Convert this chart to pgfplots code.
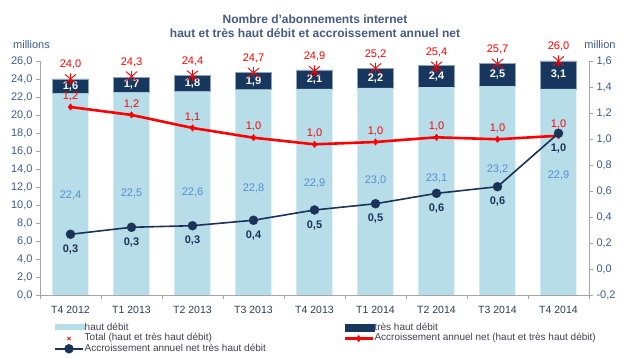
\documentclass[border=0pt]{standalone}
\usepackage{pgfplots}
\pgfplotsset{compat=1.18}
\usepackage{pgfplotstable}
\usepackage{fontspec}
\setmainfont{Liberation Sans}
\definecolor{hd}{HTML}{B7DDE8}
\definecolor{thd}{HTML}{17375E}
\definecolor{thdedge}{HTML}{8FA2BC}
\definecolor{navline}{HTML}{1B3358}
\definecolor{lblblue}{HTML}{558ED5}
\definecolor{tickcol}{HTML}{3C5A8C}
\definecolor{titlecol}{HTML}{465A82}
\definecolor{axgray}{HTML}{A6A6A6}
\definecolor{legtext}{HTML}{404050}
\definecolor{catcol}{HTML}{2E3B55}

\pgfdeclareplotmark{xstar}{%
  \pgfpathmoveto{\pgfqpoint{-\pgfplotmarksize}{-0.85\pgfplotmarksize}}%
  \pgfpathlineto{\pgfqpoint{\pgfplotmarksize}{0.85\pgfplotmarksize}}%
  \pgfpathmoveto{\pgfqpoint{-\pgfplotmarksize}{0.85\pgfplotmarksize}}%
  \pgfpathlineto{\pgfqpoint{\pgfplotmarksize}{-0.85\pgfplotmarksize}}%
  \pgfpathmoveto{\pgfqpoint{0pt}{-\pgfplotmarksize}}%
  \pgfpathlineto{\pgfqpoint{0pt}{\pgfplotmarksize}}%
  \pgfusepathqstroke}

\pgfplotstableread{
x hd thd
0 22.4 1.6
1 22.5 1.7
2 22.6 1.8
3 22.8 1.9
4 22.9 2.1
5 23.0 2.2
6 23.1 2.4
7 23.2 2.5
8 22.9 3.1
}\bars

\pgfplotstableread{
x y l
0 11.1 22,4
1 11.3 22,5
2 11.4 22,6
3 11.8 22,8
4 12.4 22,9
5 12.7 23,0
6 13.0 23,1
7 14.0 23,2
8 13.25 22,9
}\hdlabels

\pgfplotstableread{
x y l
0 23.2 1,6
1 23.35 1,7
2 23.5 1,8
3 23.75 1,9
4 23.95 2,1
5 24.1 2,2
6 24.3 2,4
7 24.45 2,5
8 24.45 3,1
}\thdlabels

\pgfplotstableread{
x y l
0 24.0 24,0
1 24.3 24,3
2 24.4 24,4
3 24.7 24,7
4 24.9 24,9
5 25.2 25,2
6 25.4 25,4
7 25.7 25,7
8 26.0 26,0
}\totals

\pgfplotstableread{
x y l
0 1.246 1,2
1 1.185 1,2
2 1.085 1,1
3 1.010 1,0
4 0.959 1,0
5 0.977 1,0
6 1.013 1,0
7 0.998 1,0
8 1.025 1,0
}\accnet

\pgfplotstableread{
x y l
0 0.267 0,3
1 0.321 0,3
2 0.333 0,3
3 0.375 0,4
4 0.454 0,5
5 0.502 0,5
6 0.582 0,6
7 0.633 0,6
8 1.044 1,0
}\accthd

\begin{document}
\begin{tikzpicture}[x=1pt,y=1pt]
\useasboundingbox (0,0) rectangle (627,358);
\pgfplotsset{base/.style={scale only axis, width=549pt, height=234pt,
  at={(40pt,63pt)}, anchor=south west, xmin=-0.5, xmax=8.5}}

% title and unit labels
\node[align=center, text=titlecol, font=\bfseries\fontsize{12}{14}\selectfont] at (315,332)
  {Nombre d'abonnements internet\\haut et très haut débit et accroissement annuel net};
\node[text=tickcol, font=\fontsize{11}{13}\selectfont] at (31.5,313) {millions};
\node[text=tickcol, font=\fontsize{11}{13}\selectfont] at (600,313) {million};

% Axis A: stacked bars, left axis
\begin{axis}[base, ymin=0, ymax=26, ybar stacked, bar width=36pt,
  axis x line*=bottom, axis y line*=left,
  axis line style={draw=axgray, line width=0.8pt},
  tick style={draw=axgray, line width=0.8pt},
  tick align=outside, major tick length=4pt,
  ytick={0,2,...,26},
  yticklabel style={font=\fontsize{11}{13}\selectfont, text=tickcol,
    /pgf/number format/.cd, fixed, fixed zerofill, precision=1, use comma, assume math mode=true},
  xtick={-0.5,0.5,...,8.5}, xticklabels={},
  extra x ticks={0,1,2,3,4,5,6,7,8},
  extra x tick labels={T4 2012,T1 2013,T2 2013,T3 2013,T4 2013,T1 2014,T2 2014,T3 2014,T4 2014},
  extra x tick style={major tick length=0pt,
    xticklabel style={font=\fontsize{10.5}{12}\selectfont, text=catcol, yshift=-8pt}},
]
\addplot[fill=hd, draw=none] table[x=x, y=hd] {\bars};
\addplot[fill=thd, draw=thdedge, line width=0.7pt] table[x=x, y=thd] {\bars};
\end{axis}

% Axis B: labels and totals on left scale
\begin{axis}[base, ymin=0, ymax=26, hide axis, clip=false]
\addplot[draw=none, mark=none, nodes near coords, point meta=explicit symbolic,
  nodes near coords style={anchor=center, text=lblblue, font=\fontsize{11}{13}\selectfont}]
  table[x=x, y=y, meta=l] {\hdlabels};
\addplot[draw=none, mark=none, nodes near coords, point meta=explicit symbolic,
  nodes near coords style={anchor=center, text=white, font=\bfseries\fontsize{11}{13}\selectfont}]
  table[x=x, y=y, meta=l] {\thdlabels};
\addplot[only marks, mark=xstar, mark size=5.5pt, red, mark options={line width=0.9pt},
  nodes near coords, point meta=explicit symbolic,
  nodes near coords style={anchor=south, yshift=6pt, text=red, font=\fontsize{11}{13}\selectfont}]
  table[x=x, y=y, meta=l] {\totals};
\end{axis}

% Axis C: right axis, lines, legend
\begin{axis}[base, ymin=-0.2, ymax=1.6, clip=false,
  axis x line=none, axis y line*=right,
  axis line style={draw=axgray, line width=0.8pt},
  tick style={draw=axgray, line width=0.8pt},
  tick align=outside, major tick length=4pt,
  ytick={-0.2,0,0.2,0.4,0.6,0.8,1,1.2,1.4,1.6},
  yticklabel style={font=\fontsize{11}{13}\selectfont, text=tickcol,
    /pgf/number format/.cd, fixed, fixed zerofill, precision=1, use comma, assume math mode=true},
  legend image code/.code={\draw[mark repeat=2,mark phase=2,#1] plot coordinates {(0pt,0pt) (14pt,0pt) (28pt,0pt)};},
  legend columns=2,
  legend cell align=left,
  legend style={at={(axis description cs:0.0255,-0.12)}, anchor=north west,
    draw=none, fill=none, inner sep=0pt, row sep=0pt,
    font=\fontsize{10}{11}\selectfont, text=legtext,
    nodes={inner sep=0.5pt, text height=7pt, text depth=2.2pt},
    /tikz/every even column/.append style={column sep=77pt}},
]
\addlegendimage{legend image code/.code={\fill[hd] (0pt,-1pt) rectangle (29pt,4pt);}}
\addlegendentry{haut débit}
\addlegendimage{legend image code/.code={\fill[thd] (0pt,-3pt) rectangle (29pt,4pt);}}
\addlegendentry{très haut débit}
\addlegendimage{only marks, mark=x, red, mark size=2.3pt, mark options={line width=0.8pt}}
\addlegendentry{Total (haut et très haut débit)}
\addplot[red, line width=2.6pt, mark=diamond*, mark size=3.2pt, mark options={line width=0.4pt},
  nodes near coords, point meta=explicit symbolic,
  nodes near coords style={anchor=south, yshift=3pt, text=red, font=\fontsize{11}{13}\selectfont}]
  table[x=x, y=y, meta=l] {\accnet};
\addlegendentry{Accroissement annuel net (haut et très haut débit)}
\addplot[navline, line width=1.6pt, mark=*, mark size=4.5pt, mark options={line width=0.4pt},
  nodes near coords, point meta=explicit symbolic,
  nodes near coords style={anchor=north, yshift=-7pt, text=navline, font=\bfseries\fontsize{11}{13}\selectfont}]
  table[x=x, y=y, meta=l] {\accthd};
\addlegendentry{Accroissement annuel net très haut débit}
\end{axis}
\end{tikzpicture}
\end{document}
